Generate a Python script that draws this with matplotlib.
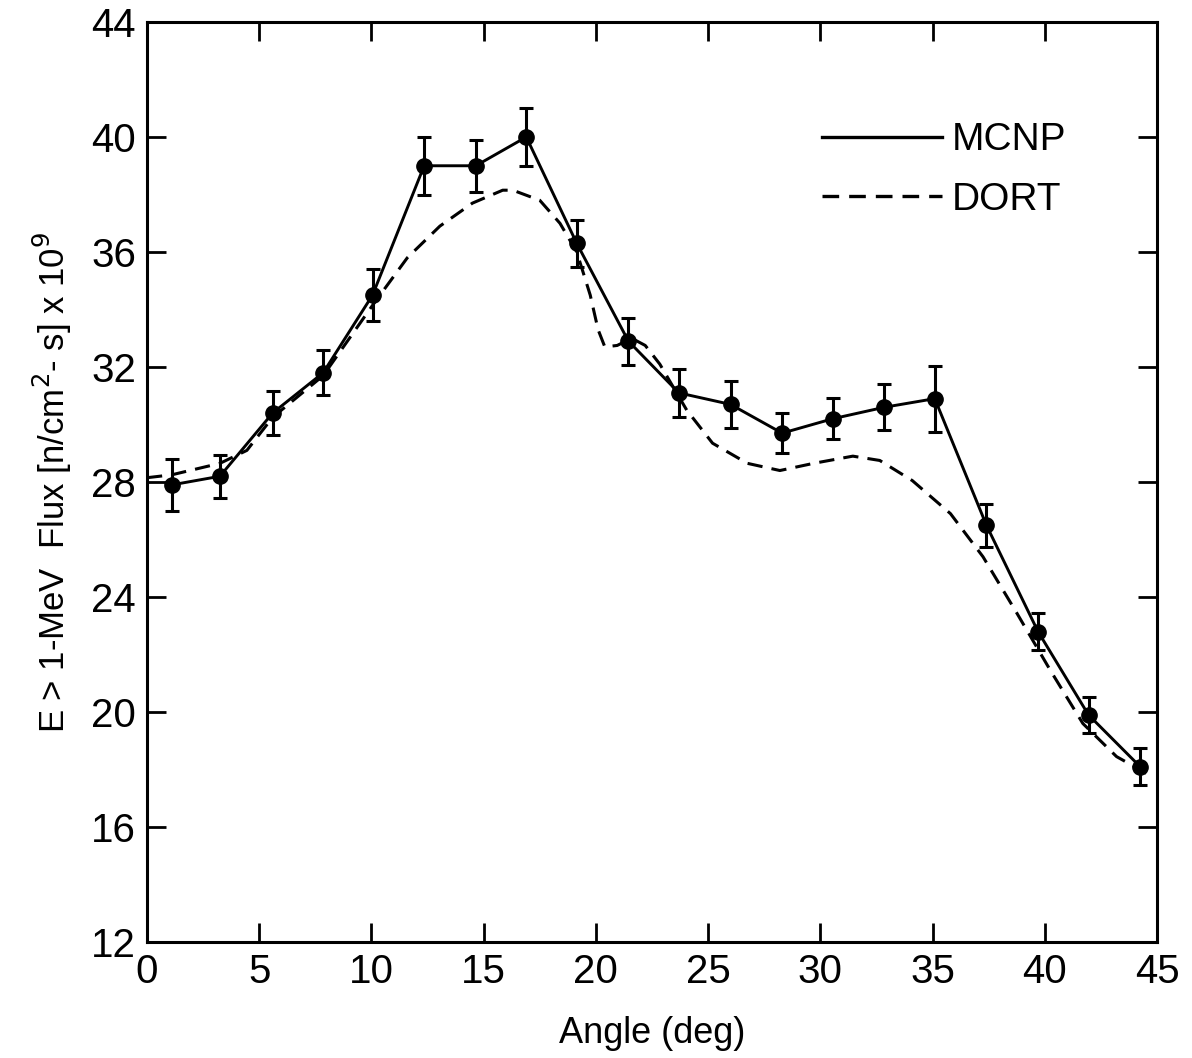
"""
MCNP vs DORT fast-neutron flux (E > 1 MeV) as a function of azimuthal angle.
"""
import matplotlib
matplotlib.use("Agg")
import matplotlib.pyplot as plt
from matplotlib.lines import Line2D

plt.rcParams['font.family'] = ['Liberation Sans', 'DejaVu Sans']

# MCNP points with error bars
mcnp_angle = [1.1, 3.25, 5.6, 7.85, 10.05, 12.35, 14.65, 16.9, 19.15, 21.45,
              23.7, 26.0, 28.3, 30.55, 32.85, 35.1, 37.4, 39.7, 41.95, 44.25]
mcnp_flux = [27.9, 28.2, 30.4, 31.8, 34.5, 39.0, 39.0, 40.0, 36.3, 32.9,
             31.1, 30.7, 29.7, 30.2, 30.6, 30.9, 26.5, 22.8, 19.9, 18.1]
mcnp_err = [0.9, 0.75, 0.77, 0.78, 0.9, 1.0, 0.9, 1.0, 0.82, 0.82,
            0.83, 0.83, 0.7, 0.72, 0.8, 1.15, 0.75, 0.65, 0.62, 0.65]

# DORT curve
dort_angle = [0.0, 1.1, 3.25, 4.45, 5.6, 7.85, 10.1, 11.6, 13.05, 14.5, 15.85,
              16.3, 17.5, 18.4, 19.15, 19.75, 20.1, 20.4, 20.95, 21.6, 22.2, 22.85,
              24.05, 25.2, 26.75, 28.2, 29.7, 31.45, 32.65, 34.1, 35.8, 37.25,
              38.75, 40.25, 41.7, 43.2, 44.8]
dort_flux = [28.15, 28.25, 28.65, 29.1, 30.25, 31.7, 34.2, 35.8, 36.9, 37.7, 38.15,
             38.15, 37.8, 37.0, 36.0, 34.5, 33.3, 32.7, 32.75, 33.0, 32.75, 32.1,
             30.5, 29.35, 28.65, 28.4, 28.65, 28.9, 28.75, 28.05, 26.9, 25.4,
             23.45, 21.45, 19.6, 18.45, 17.75]

x_ticks = [0, 5, 10, 15, 20, 25, 30, 35, 40, 45]
y_ticks = [12, 16, 20, 24, 28, 32, 36, 40, 44]

fig = plt.figure(figsize=(11.92, 10.58), dpi=100)
ax = fig.add_axes([0.1233, 0.1096, 0.8473, 0.8696])

ax.errorbar(mcnp_angle, mcnp_flux, yerr=mcnp_err, color='black', lw=2.1,
            marker='o', markersize=11, capsize=5, capthick=2.2, elinewidth=2.2)
ax.plot(dort_angle, dort_flux, color='black', lw=2.2, linestyle=(0, (5, 3)))

ax.set_xlim(0, 45)
ax.set_ylim(12, 44)
ax.set_xticks(x_ticks)
ax.set_yticks(y_ticks)
ax.tick_params(direction='in', length=14, width=2, top=True, right=True,
               labelsize=29, pad=8)
for s in ax.spines.values():
    s.set_linewidth(2.2)

ax.set_xlabel("Angle (deg)", fontsize=26, labelpad=18)
ax.set_ylabel(r"E > 1-MeV  Flux [n/cm$^2$- s] x 10$^9$", fontsize=25, labelpad=12)

handles = [Line2D([], [], color='black', lw=2.4),
           Line2D([], [], color='black', lw=2.4, linestyle=(0, (5, 3)))]
ax.legend(handles, ['MCNP', 'DORT'], loc='upper left',
          bbox_to_anchor=(0.668, 0.891), frameon=False, fontsize=28,
          handlelength=3.1, handletextpad=0.25, labelspacing=0.6,
          borderpad=0, borderaxespad=0)

fig.savefig("out.png", dpi=100)
